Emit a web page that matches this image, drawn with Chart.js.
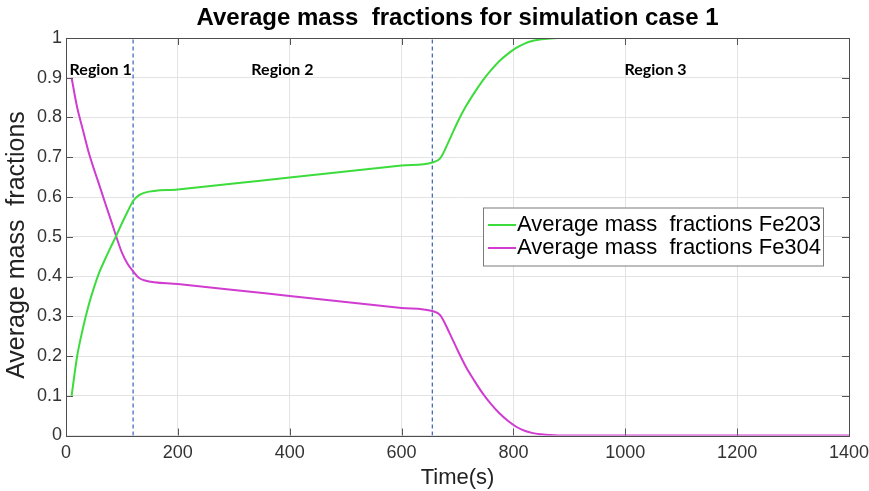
<!DOCTYPE html>
<html>
<head>
<meta charset="utf-8">
<title>Average mass fractions for simulation case 1</title>
<script src="https://cdn.jsdelivr.net/npm/chart.js@4.4.1/dist/chart.umd.min.js"></script>
<style>
  html, body { margin: 0; padding: 0; background: #ffffff; }
  canvas { display: block; }
</style>
</head>
<body>
<canvas id="massChart" width="869" height="491"></canvas>
<script>
// Time samples (s)
const times = [10, 20, 30, 40, 50, 60, 70, 80, 90, 100, 110, 120, 130, 141,
  200, 300, 400, 500, 600, 655, 669, 686, 700, 715, 730, 745, 760, 775, 790,
  805, 820, 835, 850, 865, 880, 900, 1000, 1200, 1400];

// Average mass fractions Fe203 (green)
const fe203 = [0.100, 0.200, 0.268, 0.325, 0.372, 0.412, 0.444, 0.474, 0.503, 0.534, 0.563, 0.590, 0.604, 0.611,
  0.619, 0.634, 0.649, 0.664, 0.679, 0.687, 0.697, 0.745, 0.788, 0.828, 0.862, 0.893, 0.919, 0.942, 0.960,
  0.975, 0.986, 0.993, 0.997, 0.999, 1.000, 1.000, 1.000, 1.000, 1.000];

// Average mass fractions Fe304 (magenta)
const fe304 = [0.900, 0.825, 0.770, 0.715, 0.670, 0.628, 0.585, 0.543, 0.500, 0.460, 0.432, 0.413, 0.397, 0.390,
  0.381, 0.366, 0.351, 0.336, 0.321, 0.313, 0.303, 0.257, 0.215, 0.173, 0.138, 0.106, 0.079, 0.056, 0.037,
  0.022, 0.012, 0.006, 0.003, 0.001, 0.000, 0.000, 0.000, 0.000, 0.000];

// Region boundaries (s) and region labels
const regionBounds = [120, 655];
const regionNames = ["Region 1", "Region 2", "Region 3"];
const regionLabelX = [62, 387, 1054];
const regionLabelY = 0.92;

const xTicks = [0, 200, 400, 600, 800, 1000, 1200, 1400];
const yTicks = [0, 0.1, 0.2, 0.3, 0.4, 0.5, 0.6, 0.7, 0.8, 0.9, 1];

const chartTitle = "Average mass  fractions for simulation case 1";
const yTitle = "Average mass  fractions";
const seriesLabels = ["Average mass  fractions Fe203", "Average mass  fractions Fe304"];
const seriesColors = ["#3ddc3d", "#d03cd0"];

function toPoints(xs, ys) {
  return xs.map((x, i) => ({ x: x, y: ys[i] }));
}

const datasets = [
  {
    label: seriesLabels[0],
    data: toPoints(times, fe203),
    borderColor: seriesColors[0],
    borderWidth: 2,
    pointRadius: 0,
    cubicInterpolationMode: "monotone",
    fill: false,
  },
  {
    label: seriesLabels[1],
    data: toPoints(times, fe304),
    borderColor: seriesColors[1],
    borderWidth: 2,
    pointRadius: 0,
    cubicInterpolationMode: "monotone",
    fill: false,
  },
];

// Dashed boundary lines between regions
regionBounds.forEach((b) => {
  datasets.push({
    label: "",
    data: [{ x: b, y: 0 }, { x: b, y: 1 }],
    borderColor: "#4a6cc0",
    borderWidth: 1.3,
    borderDash: [4, 3],
    pointRadius: 0,
    fill: false,
  });
});

// Titles, frame, inner tick marks, region labels and boxed legend (MATLAB look)
const matlabDecor = {
  id: "matlabDecor",
  afterDatasetsDraw(chart) {
    const ctx = chart.ctx;
    const area = chart.chartArea;
    const xs = chart.scales.x;
    const ys = chart.scales.y;
    ctx.save();

    // title centred over the axes
    ctx.fillStyle = "#000000";
    ctx.font = "bold 24px 'Liberation Sans', Arial, sans-serif";
    ctx.textAlign = "center";
    ctx.textBaseline = "middle";
    ctx.fillText(chartTitle, (area.left + area.right) / 2, 18.7);

    // y axis title
    ctx.save();
    ctx.translate(17.5, 245);
    ctx.rotate(-Math.PI / 2);
    ctx.fillStyle = "#222222";
    ctx.font = "25px 'Liberation Sans', Arial, sans-serif";
    ctx.fillText(yTitle, 0, 0);
    ctx.restore();

    // region labels
    ctx.fillStyle = "#000000";
    ctx.font = "bold 16px Lato, 'Liberation Sans', sans-serif";
    regionNames.forEach((name, i) => {
      ctx.fillText(name, xs.getPixelForValue(regionLabelX[i]), ys.getPixelForValue(regionLabelY));
    });

    // inner tick marks
    ctx.strokeStyle = "#555555";
    ctx.lineWidth = 1;
    ctx.beginPath();
    xTicks.forEach((t) => {
      const px = Math.round(xs.getPixelForValue(t)) + 0.5;
      ctx.moveTo(px, area.bottom);
      ctx.lineTo(px, area.bottom - 7);
      ctx.moveTo(px, area.top);
      ctx.lineTo(px, area.top + 7);
    });
    yTicks.forEach((t) => {
      const py = Math.round(ys.getPixelForValue(t)) + 0.5;
      ctx.moveTo(area.left, py);
      ctx.lineTo(area.left + 7, py);
      ctx.moveTo(area.right, py);
      ctx.lineTo(area.right - 7, py);
    });
    ctx.stroke();

    // frame
    ctx.strokeStyle = "#4d4d4d";
    ctx.strokeRect(Math.round(area.left) + 0.5, Math.round(area.top) + 0.5,
      Math.round(area.right - area.left), Math.round(area.bottom - area.top));

    // legend box
    const lx = 483, ly = 207.5, lw = 340, lh = 58;
    ctx.fillStyle = "#ffffff";
    ctx.fillRect(lx, ly, lw, lh);
    ctx.strokeStyle = "#7a7a7a";
    ctx.strokeRect(lx + 0.5, ly + 0.5, lw, lh);
    ctx.font = "22px 'Liberation Sans', Arial, sans-serif";
    ctx.textAlign = "left";
    ctx.textBaseline = "middle";
    [0, 1].forEach((i) => {
      const ds = chart.data.datasets[i];
      const rowY = ly + 17.5 + i * 23;
      ctx.strokeStyle = ds.borderColor;
      ctx.lineWidth = 2;
      ctx.beginPath();
      ctx.moveTo(lx + 5, rowY);
      ctx.lineTo(lx + 33, rowY);
      ctx.stroke();
      ctx.fillStyle = "#000000";
      ctx.fillText(ds.label, lx + 34, rowY);
    });
    ctx.restore();
  },
};

const massCtx = document.getElementById("massChart").getContext("2d");
const massChart = new Chart(massCtx, {
  type: "line",
  data: { datasets: datasets },
  options: {
    responsive: false,
    animation: false,
    layout: { padding: { left: 0, right: 20, top: 38, bottom: 0 } },
    plugins: {
      legend: { display: false },
      tooltip: { enabled: false },
      title: { display: false },
    },
    scales: {
      x: {
        type: "linear",
        min: 0,
        max: 1400,
        afterBuildTicks: (scale) => {
          scale.ticks = xTicks.map((v) => ({ value: v }));
        },
        afterFit: (scale) => {
          scale.height = 55.5;
          scale.paddingLeft = 0;
          scale.paddingRight = 0;
        },
        grid: { color: "#e3e3e3", drawTicks: false },
        border: { display: false },
        ticks: {
          color: "#333333",
          padding: 7,
          maxRotation: 0,
          font: { family: "'Liberation Sans', Arial, sans-serif", size: 18 },
          callback: (v) => String(v),
        },
        title: {
          display: true,
          text: "Time(s)",
          color: "#222222",
          font: { family: "'Liberation Sans', Arial, sans-serif", size: 22 },
          padding: { top: 0, bottom: 0 },
        },
      },
      y: {
        type: "linear",
        min: 0,
        max: 1,
        afterBuildTicks: (scale) => {
          scale.ticks = yTicks.map((v) => ({ value: v }));
        },
        afterFit: (scale) => {
          scale.width = 66;
          scale.paddingTop = 0;
          scale.paddingBottom = 0;
        },
        grid: { color: "#e3e3e3", drawTicks: false },
        border: { display: false },
        ticks: {
          color: "#333333",
          padding: 4,
          font: { family: "'Liberation Sans', Arial, sans-serif", size: 18 },
          callback: (v) => String(Math.round(v * 10) / 10),
        },
      },
    },
  },
  plugins: [matlabDecor],
});
</script>
</body>
</html>
